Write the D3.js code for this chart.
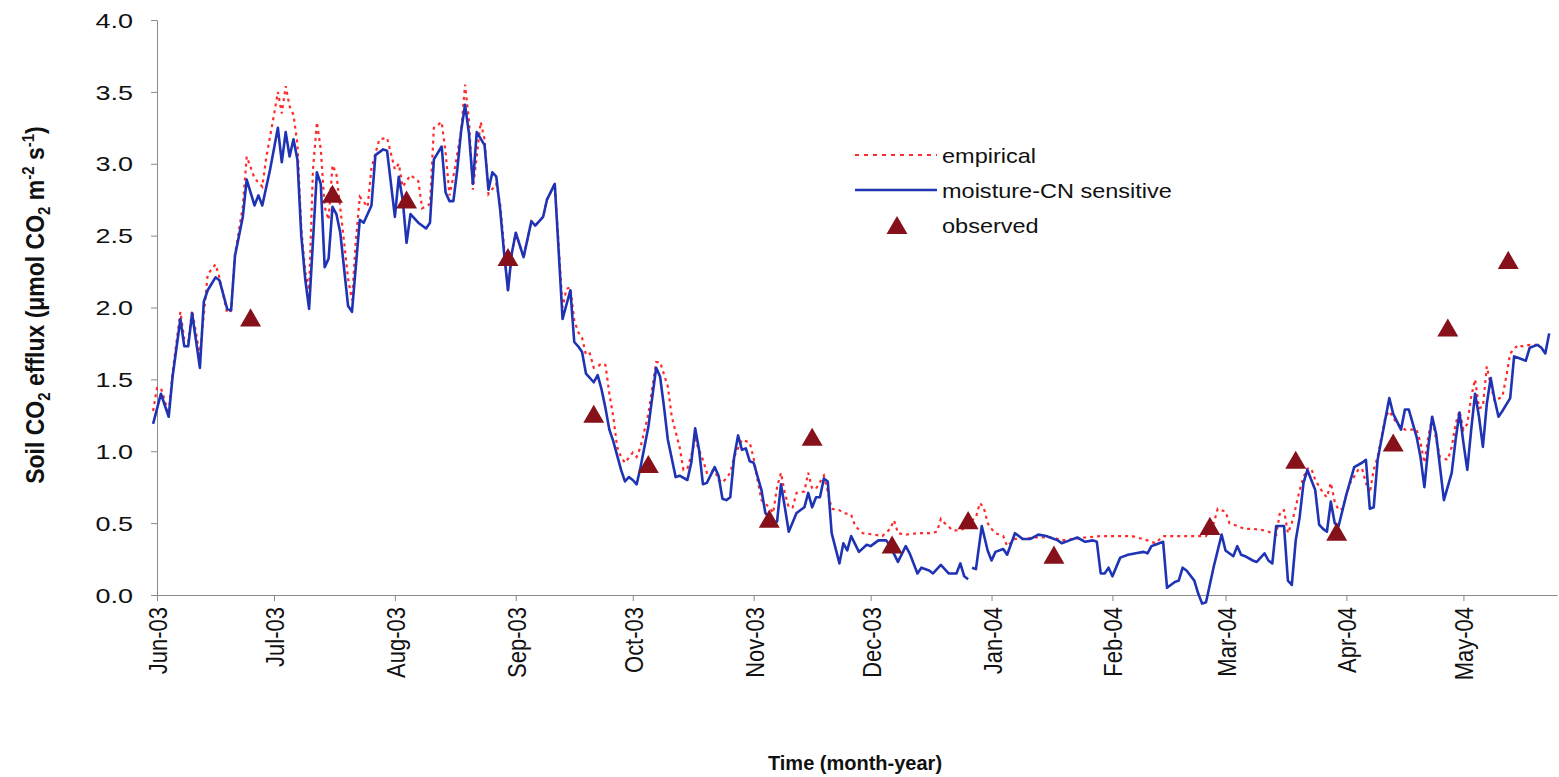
<!DOCTYPE html>
<html>
<head>
<meta charset="utf-8">
<script src="https://cdn.jsdelivr.net/npm/d3@7.9.0/dist/d3.min.js"></script>
<style>
  body { margin: 0; background: #fff; }
  svg { display: block; font-family: "Liberation Sans", Arial, sans-serif; }
</style>
</head>
<body>
<svg id="chart" width="1559" height="777"></svg>
<script>
// days counted from 1 Jun 2003, values in umol CO2 m-2 s-1
const moistureCN = [[-1,1.19],[1,1.40],[3,1.24],[4,1.52],[6,1.92],[7,1.73],[8,1.73],[9,1.96],[11,1.58],[12,2.04],[13,2.12],[15,2.21],[16,2.19],[18,1.99],[19,1.98],[20,2.36],[22,2.63],[23,2.89],[25,2.71],[26,2.78],[27,2.71],[29,2.96],[31,3.25],[32,3.01],[33,3.22],[34,3.05],[35,3.17],[36,3.03],[37,2.50],[38,2.20],[39,1.99],[41,2.94],[42,2.86],[43,2.28],[44,2.34],[45,2.70],[46,2.65],[47,2.52],[49,2.01],[50,1.97],[52,2.61],[53,2.59],[55,2.71],[56,3.06],[58,3.10],[59,3.09],[61,2.63],[62,2.91],[63,2.75],[64,2.45],[65,2.65],[67,2.59],[69,2.55],[70,2.59],[71,3.03],[73,3.12],[74,2.80],[75,2.74],[76,2.74],[77,2.96],[78,3.23],[79,3.41],[80,3.21],[81,2.86],[82,3.22],[84,3.13],[85,2.82],[86,2.94],[87,2.91],[88,2.68],[89,2.38],[90,2.12],[91,2.38],[92,2.52],[94,2.35],[96,2.60],[97,2.57],[99,2.63],[100,2.75],[102,2.86],[104,1.92],[106,2.12],[107,1.76],[108,1.73],[109,1.69],[110,1.54],[112,1.48],[113,1.53],[114,1.43],[115,1.30],[116,1.15],[117,1.07],[119,0.87],[120,0.79],[121,0.82],[122,0.80],[123,0.77],[124,0.89],[126,1.17],[128,1.58],[129,1.52],[130,1.31],[131,1.08],[133,0.82],[134,0.83],[136,0.80],[137,0.92],[138,1.16],[139,1.01],[140,0.77],[141,0.78],[143,0.89],[144,0.83],[145,0.67],[146,0.66],[147,0.68],[148,0.96],[149,1.11],[150,1.01],[151,1.02],[152,0.93],[153,0.92],[155,0.73],[156,0.57],[158,0.51],[159,0.51],[160,0.77],[161,0.61],[162,0.44],[164,0.57],[166,0.61],[167,0.71],[168,0.61],[169,0.68],[170,0.68],[171,0.81],[172,0.79],[173,0.43],[175,0.22],[176,0.36],[177,0.31],[178,0.41],[180,0.30],[182,0.35],[183,0.34],[185,0.38],[187,0.38],[188,0.34],[190,0.23],[192,0.34],[193,0.29],[195,0.15],[196,0.19],[198,0.17],[199,0.15],[201,0.21],[203,0.15],[205,0.15],[206,0.22],[207,0.13],[208,0.11],[208.5,null],[209,0.19],[210,0.18],[211.5,0.48],[213,0.31],[214,0.24],[215,0.30],[217,0.32],[218,0.28],[220,0.43],[222,0.39],[224,0.39],[226,0.42],[228,0.41],[231,0.38],[232,0.36],[234,0.38],[236,0.40],[238,0.37],[240,0.38],[241,0.37],[242,0.15],[243,0.15],[244,0.19],[245,0.13],[247,0.26],[249,0.28],[251,0.29],[253,0.30],[254,0.29],[255,0.34],[256,0.35],[258,0.37],[259,0.05],[261,0.09],[262,0.10],[263,0.19],[264,0.17],[266,0.10],[267,0.01],[268,-0.06],[269,-0.05],[271,0.20],[273,0.42],[274,0.31],[276,0.27],[277,0.34],[278,0.28],[279,0.27],[281,0.24],[282,0.23],[284,0.29],[285,0.24],[286,0.22],[287,0.48],[289,0.48],[290,0.10],[291,0.07],[292,0.38],[293,0.54],[294,0.78],[295,0.87],[297,0.73],[298,0.49],[299,0.46],[300,0.44],[301,0.65],[302,0.50],[303,0.48],[305,0.70],[307,0.89],[309,0.92],[310,0.94],[311,0.60],[312,0.61],[313,0.94],[316,1.37],[317,1.26],[319,1.15],[320,1.29],[321,1.29],[323,1.10],[324,0.96],[325,0.75],[326,1.03],[327,1.24],[328,1.12],[330,0.66],[332,0.85],[333,1.08],[334,1.27],[335,1.06],[336,0.87],[337,1.15],[338,1.40],[339,1.24],[340,1.03],[341,1.33],[342,1.51],[343,1.36],[344,1.24],[345,1.28],[347,1.37],[348,1.66],[349,1.65],[351,1.63],[352,1.72],[354,1.74],[355,1.72],[356,1.68],[357,1.82]];

const empirical = [[-1,1.28],[0,1.44],[1,1.44],[3,1.26],[4,1.55],[6,1.97],[7,1.78],[8,1.76],[9,1.98],[11,1.67],[13,2.23],[15,2.30],[16,2.21],[18,1.96],[19,1.98],[20,2.37],[22,2.70],[23,3.05],[25,2.90],[27,2.84],[28,3.04],[30,3.34],[31,3.50],[32,3.35],[33,3.54],[34,3.40],[35,3.34],[36,3.14],[37,2.55],[38,2.25],[39,2.12],[40,2.96],[41,3.29],[42,3.10],[43,2.70],[44,2.61],[45,2.99],[46,2.93],[48,2.45],[49,2.20],[50,2.05],[51,2.47],[52,2.77],[54,2.70],[55,2.97],[57,3.17],[59,3.18],[61,2.96],[62,3.00],[63,2.84],[65,2.92],[67,2.88],[68,2.69],[70,2.72],[71,3.25],[73,3.29],[74,3.08],[75,2.78],[76,2.91],[78,3.23],[79,3.55],[80,3.30],[81,2.82],[83,3.29],[84,3.17],[85,2.79],[87,2.86],[88,2.72],[89,2.42],[90,2.11],[91,2.38],[92,2.52],[94,2.35],[96,2.60],[97,2.57],[99,2.63],[100,2.75],[102,2.86],[104,2.00],[105,2.13],[106,2.14],[107,1.91],[108,1.83],[109,1.79],[110,1.67],[111,1.68],[112,1.58],[113,1.59],[114,1.61],[115,1.60],[116,1.40],[117,1.24],[118,1.03],[119,0.96],[120,0.92],[122,0.99],[123,0.96],[124,1.03],[126,1.26],[128,1.62],[129,1.62],[131,1.45],[132,1.24],[134,1.03],[135,0.87],[136,0.88],[137,0.97],[138,1.08],[140,0.94],[141,0.85],[143,0.87],[144,0.80],[145,0.78],[147,0.85],[148,0.96],[150,1.08],[152,1.06],[153,0.95],[154,0.80],[155,0.66],[157,0.61],[158,0.57],[159,0.75],[160,0.85],[161,0.71],[162,0.61],[163,0.61],[164,0.71],[166,0.72],[167,0.85],[168,0.74],[169,0.74],[171,0.83],[172,0.72],[173,0.60],[175,0.59],[176,0.57],[178,0.56],[179,0.48],[181,0.43],[184,0.42],[186,0.41],[188,0.46],[189,0.52],[190,0.43],[192,0.42],[195,0.43],[198,0.43],[200,0.44],[201,0.53],[202,0.50],[204,0.45],[206,0.45],[208,0.48],[209,0.52],[210,0.54],[211,0.64],[212,0.61],[213,0.50],[214,0.46],[215,0.43],[217,0.41],[218,0.34],[220,0.39],[222,0.39],[225,0.40],[230,0.40],[232,0.38],[235,0.39],[238,0.40],[242,0.41],[250,0.41],[254,0.38],[256,0.36],[258,0.41],[262,0.41],[266,0.41],[269,0.41],[271,0.50],[272,0.60],[274,0.58],[275,0.50],[277,0.48],[279,0.46],[281,0.46],[284,0.45],[285,0.44],[287,0.42],[288,0.58],[289,0.59],[290,0.43],[291,0.50],[292,0.61],[293,0.73],[294,0.82],[295,0.88],[296,0.88],[297,0.80],[299,0.71],[300,0.68],[301,0.78],[302,0.65],[303,0.59],[304,0.60],[305,0.70],[306,0.78],[308,0.87],[309,0.88],[310,0.78],[311,0.71],[312,0.87],[313,0.96],[315,1.24],[316,1.28],[318,1.19],[319,1.17],[320,1.15],[323,1.15],[324,1.06],[325,0.92],[326,1.10],[327,1.24],[328,1.08],[329,0.96],[331,0.94],[332,1.03],[333,1.19],[334,1.28],[335,1.15],[336,1.19],[337,1.38],[338,1.50],[339,1.30],[340,1.31],[341,1.59],[342,1.46],[343,1.35],[345,1.38],[346,1.52],[347,1.68],[349,1.74],[350,1.73],[352,1.74],[354,1.74]];

const observed = [[24,1.91],[45,2.77],[64,2.73],[90,2.33],[112,1.24],[126,0.89],[157,0.51],[168,1.08],[188.5,0.33],[208,0.50],[230,0.26],[270,0.46],[292,0.92],[302.5,0.42],[317,1.04],[331,1.84],[346.5,2.31]];

const monthStarts = ["2003-06-01","2003-07-01","2003-08-01","2003-09-01","2003-10-01","2003-11-01","2003-12-01","2004-01-01","2004-02-01","2004-03-01","2004-04-01","2004-05-01"];
const monthLabels = ["Jun-03","Jul-03","Aug-03","Sep-03","Oct-03","Nov-03","Dec-03","Jan-04","Feb-04","Mar-04","Apr-04","May-04"];
const yTicks = [0, 0.5, 1, 1.5, 2, 2.5, 3, 3.5, 4];

const parse = d3.timeParse("%Y-%m-%d");
const start = parse("2003-06-01");
const dayToDate = d => new Date(start.getTime() + d * 864e5);

const svg = d3.select("#chart");
svg.append("rect").attr("width", 1559).attr("height", 777).attr("fill", "#fff");

const x = d3.scaleTime().domain([start, dayToDate(359)]).range([157, 1557]);
const y = d3.scaleLinear().domain([0, 4]).range([595, 20]);

// axes
const yAxis = svg.append("g")
  .attr("transform", "translate(157,0)")
  .call(d3.axisLeft(y).tickValues(yTicks).tickFormat(d3.format(".1f")).tickSize(6).tickSizeOuter(0));
yAxis.select(".domain").attr("stroke", "#8a8a8a");
yAxis.selectAll(".tick line").attr("stroke", "#8a8a8a");
yAxis.selectAll(".tick text")
  .attr("x", null)
  .attr("dy", "0.36em")
  .attr("transform", "translate(-24,0) scale(1.35,1)")
  .attr("text-anchor", "end")
  .attr("fill", "#111")
  .style("font-size", "20px");

const xAxis = svg.append("g")
  .attr("transform", "translate(0,595)")
  .call(d3.axisBottom(x)
    .tickValues(monthStarts.map(parse))
    .tickFormat((d, i) => monthLabels[i])
    .tickSize(6).tickSizeOuter(0));
xAxis.select(".domain").attr("stroke", "#8a8a8a");
xAxis.selectAll(".tick line").attr("stroke", "#8a8a8a");
xAxis.selectAll(".tick text")
  .attr("y", 0)
  .attr("x", -12)
  .attr("dy", "0.36em")
  .attr("transform", "rotate(-90) scale(1,1.2)")
  .attr("text-anchor", "end")
  .attr("fill", "#111")
  .style("font-size", "22px");

// lines
const line = d3.line()
  .defined(d => d[1] !== null)
  .x(d => x(dayToDate(d[0])))
  .y(d => y(d[1]));

svg.append("path")
  .datum(empirical)
  .attr("d", line)
  .attr("fill", "none")
  .attr("stroke", "#ff2b2b")
  .attr("stroke-width", 2.2)
  .attr("stroke-dasharray", "3,4");

svg.append("path")
  .datum(moistureCN)
  .attr("d", line)
  .attr("fill", "none")
  .attr("stroke", "#1f33b5")
  .attr("stroke-width", 2.6)
  .attr("stroke-linejoin", "round");

const tri = d3.symbol().type(d3.symbolTriangle).size(190);
svg.selectAll(".obs")
  .data(observed)
  .join("path")
  .attr("class", "obs")
  .attr("d", tri)
  .attr("transform", d => `translate(${x(dayToDate(d[0]))},${y(d[1])})`)
  .attr("fill", "#86111a");

// legend
const legend = svg.append("g");
legend.append("line").attr("x1", 855).attr("x2", 937).attr("y1", 155).attr("y2", 155)
  .attr("stroke", "#ff2b2b").attr("stroke-width", 2.2).attr("stroke-dasharray", "4,5");
legend.append("line").attr("x1", 855).attr("x2", 937).attr("y1", 190).attr("y2", 190)
  .attr("stroke", "#1f33b5").attr("stroke-width", 2.6);
legend.append("path").attr("d", tri).attr("transform", "translate(897,228)").attr("fill", "#86111a");
const legendText = ["empirical", "moisture-CN sensitive", "observed"];
legendText.forEach((t, i) => {
  legend.append("text")
    .attr("transform", `translate(942,${155 + i * 35}) scale(1.12,1)`)
    .attr("dy", "0.36em")
    .style("font-size", "21px")
    .attr("fill", "#111")
    .text(t);
});

// axis titles
svg.append("text")
  .attr("x", 855).attr("y", 770)
  .attr("text-anchor", "middle")
  .style("font-size", "20px").style("font-weight", "bold")
  .attr("fill", "#111")
  .text("Time (month-year)");

const yTitle = svg.append("text")
  .attr("transform", "translate(44,305) rotate(-90) scale(1,1.15)")
  .attr("text-anchor", "middle")
  .style("font-size", "23px").style("font-weight", "bold")
  .attr("fill", "#111");
yTitle.append("tspan").text("Soil CO");
yTitle.append("tspan").attr("dy", 5).style("font-size", "15px").text("2");
yTitle.append("tspan").attr("dy", -5).text(" efflux (\u03bcmol CO");
yTitle.append("tspan").attr("dy", 5).style("font-size", "15px").text("2");
yTitle.append("tspan").attr("dy", -5).text(" m");
yTitle.append("tspan").attr("dy", -9).style("font-size", "15px").text("-2");
yTitle.append("tspan").attr("dy", 9).text(" s");
yTitle.append("tspan").attr("dy", -9).style("font-size", "15px").text("-1");
yTitle.append("tspan").attr("dy", 9).text(")");
</script>
</body>
</html>
